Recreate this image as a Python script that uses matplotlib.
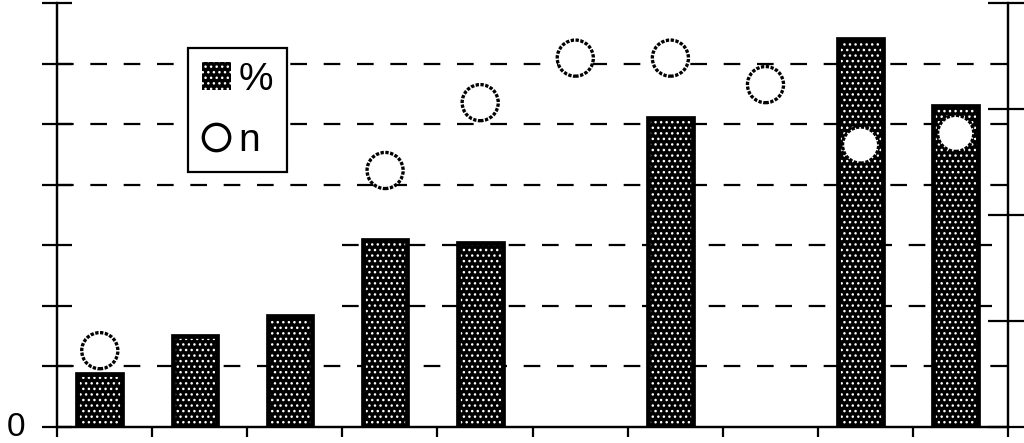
import numpy as np
import matplotlib
matplotlib.use("Agg")
import matplotlib.pyplot as plt
from matplotlib.patches import Patch
from matplotlib.lines import Line2D

plt.rcParams['font.family'] = ['Liberation Sans', 'DejaVu Sans']
plt.rcParams['hatch.linewidth'] = 1.0

# ---- data ----
categories = list(range(10))
pct = [0.87, 1.50, 1.83, 3.09, 3.04, np.nan, 5.10, np.nan, 6.40, 5.30]   # bars, left axis
n_vals = [0.72, np.nan, np.nan, 2.42, 3.06, 3.48, 3.48, 3.23, 2.66, 2.77]  # circles, right axis
left_ticks = [0, 1, 2, 3, 4, 5, 6, 7]
left_ticklabels = ['0', '', '', '', '', '', '', '']
right_ticks = [0, 1, 2, 3, 4]
full_grid = [1, 4, 5, 6]
partial_grid = [2, 3]
legend_labels = ['%', 'n']

fig = plt.figure(figsize=(10.24, 4.43), dpi=100)
ax = fig.add_axes([57/1024, 16/443, 951/1024, 424/443])
ax2 = ax.twinx()

x = np.arange(len(categories)) + 0.45
w = 0.47

# gridlines
for g in full_grid:
    ax.axhline(g, color='black', lw=1.6, ls=(0, (7.5, 7.5)), zorder=0)
ax.hlines(partial_grid, 3.0, 10, color='black', lw=1.6, ls=(0, (7.5, 7.5)), zorder=0)

# bars: dotted fill + heavy black outline
ax.bar(x, pct, width=w, facecolor='black', edgecolor='white', hatch='...', linewidth=0, zorder=2)
ax.bar(x, pct, width=w, fill=False, edgecolor='black', linewidth=3.4, zorder=3)

# circles
ax2.scatter(x, n_vals, s=26**2, facecolor='white', edgecolor='black', linewidths=2.4,
            linestyle=(0, (1.0, 0.45)), zorder=5)

ax.set_xlim(0, 10)
ax.set_ylim(0, 7)
ax2.set_ylim(0, 4)

for a in (ax, ax2):
    for s in a.spines.values():
        s.set_linewidth(1.6)
    a.spines['top'].set_visible(False)

ax.set_xticks(range(0, 11))
ax.set_xticklabels([])
ax.tick_params(axis='x', direction='out', length=7, width=1.6)
ax.set_yticks(left_ticks)
ax.set_yticklabels(left_ticklabels, fontsize=24, va='center')
ax.tick_params(axis='y', direction='inout', length=21, width=1.6, pad=12)
ax2.set_yticks(right_ticks)
ax2.set_yticklabels([])
ax2.tick_params(axis='y', direction='inout', length=29, width=1.6)

handles = [
    Patch(facecolor='black', edgecolor='white', hatch='...', linewidth=0),
    Line2D([], [], marker='o', ls='none', markersize=19, markerfacecolor='white',
           markeredgecolor='black', markeredgewidth=2.4),
]
leg = ax2.legend(handles, legend_labels, loc='upper left', bbox_to_anchor=(0.138, 0.894),
                 borderaxespad=0, fancybox=False, framealpha=1, edgecolor='black',
                 fontsize=28, handlelength=0.75, handleheight=0.75, handletextpad=0.2,
                 labelspacing=0.65, borderpad=0.35)
leg.get_frame().set_linewidth(1.6)
leg.set_zorder(10)

fig.savefig('out.png', dpi=100)
